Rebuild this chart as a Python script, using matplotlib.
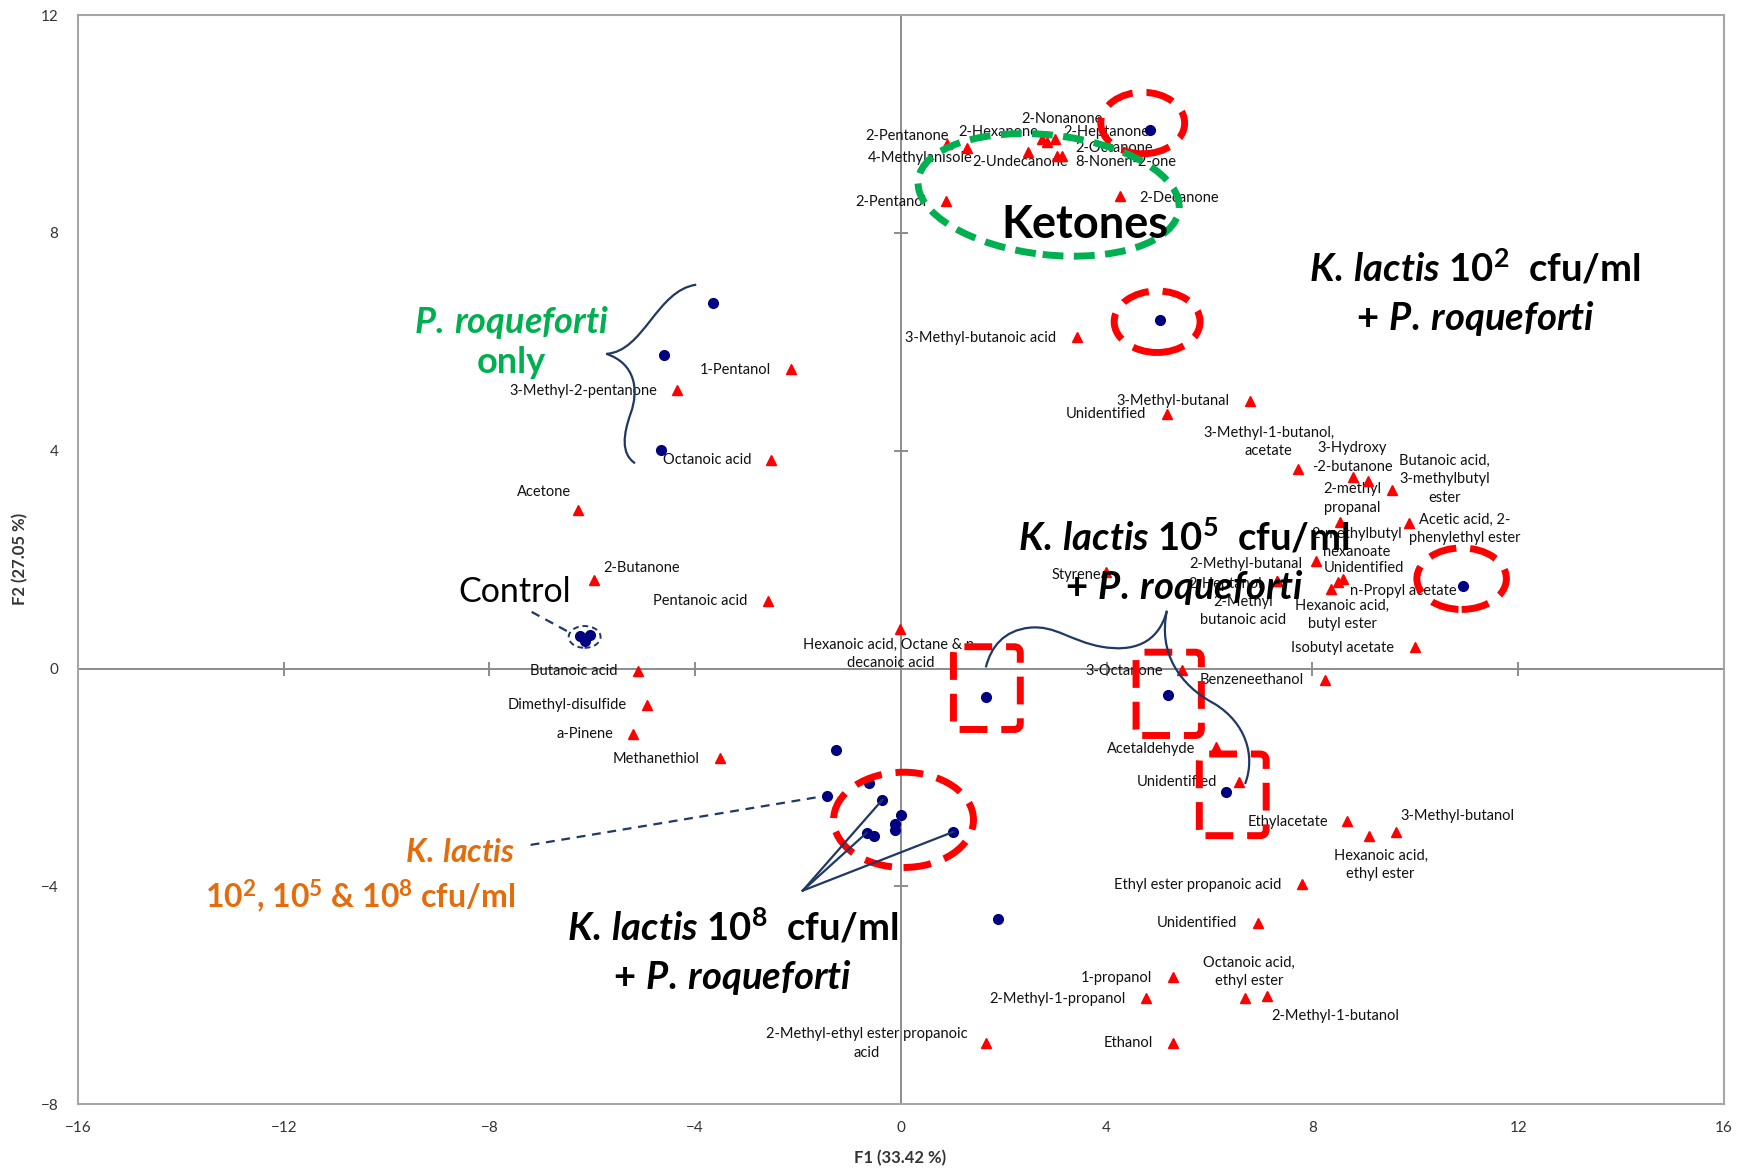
import matplotlib
matplotlib.use("Agg")
import matplotlib.pyplot as plt
from matplotlib.patches import Ellipse, FancyBboxPatch, PathPatch
from matplotlib.path import Path

plt.rcParams["font.family"] = ["Lato", "DejaVu Sans"]
plt.rcParams["mathtext.fontset"] = "custom"
plt.rcParams["mathtext.rm"] = "Lato:bold"
plt.rcParams["mathtext.it"] = "Lato:bold:italic"
plt.rcParams["mathtext.bf"] = "Lato:bold"

# ── PCA scores: volatile compounds (F1, F2) ───────────────────────────────────
COMPOUNDS = [
    "2-Pentanone", "4-Methylanisole", "2-Undecanone", "2-Hexanone", "2-Nonanone",
    "2-Heptanone", "2-Octanone", "8-Nonen-2-one", "2-Pentanol", "2-Decanone",
    "3-Methyl-butanoic acid", "1-Pentanol", "3-Methyl-2-pentanone", "Octanoic acid",
    "Acetone", "2-Butanone", "Pentanoic acid", "Butanoic acid", "Dimethyl-disulfide",
    "a-Pinene", "Methanethiol", "Hexanoic acid, Octane & n-\ndecanoic acid",
    "3-Methyl-butanal", "Unidentified", "3-Methyl-1-butanol,\nacetate",
    "3-Hydroxy\n-2-butanone", "2-methyl\npropanal", "Butanoic acid,\n3-methylbutyl\nester",
    "2-methylbutyl\nhexanoate", "Acetic acid, 2-\nphenylethyl ester", "2-Methyl-butanal",
    "Unidentified", "n-Propyl acetate", "Hexanoic acid,\nbutyl ester", "2-Heptanol",
    "2-Methyl\nbutanoic acid", "Styrene", "Isobutyl acetate", "3-Octanone",
    "Benzeneethanol", "Acetaldehyde", "Unidentified", "Ethylacetate",
    "Hexanoic acid,\nethyl ester", "3-Methyl-butanol", "Ethyl ester propanoic acid",
    "Unidentified", "1-propanol", "2-Methyl-1-propanol", "Octanoic acid,\nethyl ester",
    "2-Methyl-1-butanol", "Ethanol", "2-Methyl-ethyl ester propanoic\nacid",
]
COMP_F1 = [
    0.89, 1.28, 2.47, 2.75, 2.84, 2.99, 3.03, 3.14, 0.88, 4.25,
    3.42, -2.14, -4.35, -2.53, -6.27, -5.97, -2.58, -5.11, -4.93,
    -5.20, -3.52, -0.02, 6.79, 5.18, 7.71, 8.79, 9.07, 9.54,
    8.54, 9.88, 8.06, 8.59, 8.50, 8.37, 7.31, 7.31, 3.99, 9.99, 5.46,
    8.25, 6.12, 6.58, 8.68, 9.09, 9.62, 7.79, 6.94, 5.28, 4.76, 6.69,
    7.12, 5.28, 1.66,
]
COMP_F2 = [
    9.64, 9.56, 9.48, 9.72, 9.68, 9.72, 9.42, 9.42, 8.59, 8.68,
    6.09, 5.50, 5.12, 3.83, 2.92, 1.62, 1.24, -0.04, -0.67,
    -1.21, -1.64, 0.73, 4.92, 4.68, 3.67, 3.51, 3.45, 3.27,
    2.69, 2.67, 1.98, 1.65, 1.58, 1.46, 1.61, 1.61, 1.77, 0.39, -0.02,
    -0.22, -1.44, -2.09, -2.81, -3.08, -3.00, -3.96, -4.67, -5.67, -6.06, -6.05,
    -6.02, -6.88, -6.87,
]

# ── PCA scores: cheese samples (F1, F2) ───────────────────────────────────────
SAMPLE_F1 = [4.84, 5.03, 10.92, -3.66, -4.60, -4.67, -6.24, -6.05, -6.14,
             1.65, 5.19, 6.32, -1.26, -1.44, -0.62, -0.36, 0.00, -0.12,
             -0.12, -0.67, -0.52, 1.02, 1.89]
SAMPLE_F2 = [9.90, 6.40, 1.51, 6.72, 5.76, 4.01, 0.59, 0.61, 0.51,
             -0.53, -0.48, -2.27, -1.49, -2.35, -2.11, -2.41, -2.70, -2.86,
             -2.97, -3.02, -3.08, -3.00, -4.61]

X_TICKS = [-16, -12, -8, -4, 0, 4, 8, 12, 16]
Y_TICKS = [-8, -4, 0, 4, 8, 12]

# label placement (pixel offsets from each compound marker, label centred)
LABEL_OFFSETS = [
    (-40, 8), (-47, -10), (-8, -10), (-44, 7), (15, 23), (52, 7), (57, 8), (63, -6),
    (-55, -1), (60, -2), (-96, -1), (-56, -1), (-94, -1), (-64, 0), (-34, 18),
    (48, 12), (-68, 0), (-64, 0), (-80, 0), (-49, 0), (-64, -1), (-9, -25),
    (-77, 0), (-61, 0), (-29, 27), (-1, 20), (-15, -18), (53, 11), (16, -21),
    (56, -6), (-70, -3), (21, 11), (65, -9), (11, -26), (-52, -3), (-34, -30),
    (-30, -3), (-72, -1), (-58, -1), (-74, 0), (-65, -2), (-62, 0), (-60, -1),
    (12, -29), (62, 16), (-104, -1), (-61, 0), (-56, -1), (-88, -1), (4, 26),
    (68, -20), (-44, 0), (-120, -1),
]

RED = "#FF0000"
NAVY = "#000080"
LINE = "#1F3864"
GREEN = "#00B050"
ORANGE = "#E46C0A"
GREY = "#A6A6A6"

fig = plt.figure(figsize=(17.52, 11.72), dpi=100)
ax = fig.add_axes([0.0445, 0.058, 0.9395, 0.929])
ax.set_xlim(-16, 16)
ax.set_ylim(-8, 12)
ax.set_xticks(X_TICKS)
ax.set_yticks(Y_TICKS)
ax.tick_params(length=0, labelsize=11, colors="#333333")
ax.tick_params(axis="y", pad=14)
ax.tick_params(axis="x", pad=12)
for sp in ax.spines.values():
    sp.set_color(GREY)
    sp.set_linewidth(1.5)

# central axes with their own small tick marks
ax.axhline(0, color="#8C8C8C", lw=1.4, zorder=1)
ax.axvline(0, color="#8C8C8C", lw=1.4, zorder=1)
inner_x = [t for t in X_TICKS if abs(t) not in (0, 16)]
inner_y = [t for t in Y_TICKS if t not in (0, -8, 12)]
ax.plot(inner_x, [0] * len(inner_x), ls="none", marker="|", ms=10, mew=1.4,
        color="#8C8C8C", zorder=1)
ax.plot([0] * len(inner_y), inner_y, ls="none", marker="_", ms=10, mew=1.4,
        color="#8C8C8C", zorder=1)

# compounds + labels
ax.plot(COMP_F1, COMP_F2, ls="none", marker="^", ms=7, color=RED, zorder=4)
for name, x, y, off in zip(COMPOUNDS, COMP_F1, COMP_F2, LABEL_OFFSETS):
    ax.annotate(name, (x, y), xytext=off, textcoords="offset pixels",
                ha="center", va="center", multialignment="center",
                fontsize=10.5, color="#111111", zorder=3, linespacing=1.4)

# samples
ax.plot(SAMPLE_F1, SAMPLE_F2, ls="none", marker="o", ms=7, color=NAVY, zorder=4)

# red dashed groupings (circles and boxes)
red_kw = dict(fill=False, ec=RED, lw=5, ls=(0, (4, 2)), zorder=5)
for cx, cy, w, h in [(4.70, 10.02, 1.63, 1.13), (4.98, 6.37, 1.67, 1.13),
                     (10.90, 1.65, 1.74, 1.13), (0.05, -2.78, 2.72, 1.75)]:
    ax.add_patch(Ellipse((cx, cy), w, h, **red_kw))
for x0, x1, y0, y1 in [(1.02, 2.32, -1.12, 0.40), (4.57, 5.84, -1.23, 0.30),
                       (5.80, 7.10, -3.07, -1.57)]:
    ax.add_patch(FancyBboxPatch((x0, y0), x1 - x0, y1 - y0,
                                boxstyle="round,pad=0,rounding_size=0.12", **red_kw))

# ketone cluster
ax.add_patch(Ellipse((2.87, 8.70), 5.1, 2.2, angle=-6, fill=False, ec=GREEN,
                     lw=5, ls=(0, (3, 1.5)), zorder=5))

# braces and leader lines
def curve(points):
    codes = [Path.MOVETO] + [Path.CURVE4] * (len(points) - 1)
    return PathPatch(Path(points, codes), fill=False, ec=LINE, lw=1.6, zorder=6)

ax.add_patch(curve([(-5.73, 5.78), (-5.0, 5.82), (-4.75, 6.95), (-3.98, 7.05)]))
ax.add_patch(curve([(-5.73, 5.78), (-5.15, 5.6), (-5.1, 5.1), (-5.25, 4.7),
                    (-5.4, 4.3), (-5.45, 3.95), (-5.17, 3.77)]))
ax.add_patch(curve([(5.17, 1.06), (5.0, 0.45), (4.5, 0.3), (3.9, 0.4),
                    (3.3, 0.5), (3.0, 0.8), (2.5, 0.75),
                    (2.0, 0.7), (1.75, 0.4), (1.65, 0.02)]))
ax.add_patch(curve([(5.17, 1.06), (5.0, 0.3), (5.4, -0.3), (6.1, -0.65),
                    (6.7, -1.0), (6.9, -1.6), (6.69, -2.12)]))

hub = (-1.91, -4.08)
for i in (15, 19, 21):
    ax.plot([hub[0], SAMPLE_F1[i]], [hub[1], SAMPLE_F2[i]], color=LINE, lw=1.6, zorder=6)

ax.plot([-7.20, -1.60], [-3.24, -2.36], color=LINE, lw=1.6, ls=(0, (4, 3)), zorder=6)
ax.plot([-7.18, -6.42], [1.04, 0.65], color=LINE, lw=1.6, ls=(0, (4, 3)), zorder=6)
ax.add_patch(Ellipse((-6.15, 0.58), 0.62, 0.40, fill=False, ec=LINE, lw=1.4,
                     ls=(0, (3, 2)), zorder=6))

# group captions
big = dict(ha="center", va="center", fontsize=27.5, fontweight="bold",
           color="black", zorder=7, linespacing=1.37)
ax.text(11.16, 6.89, "$\\mathit{K.\\,lactis}$ $\\mathrm{10}^{2}$  cfu/ml\n"
        "$\\mathit{+\\ P.\\,roqueforti}$", **big)
ax.text(5.51, 1.95, "$\\mathit{K.\\,lactis}$ $\\mathrm{10}^{5}$  cfu/ml\n"
        "$\\mathit{+\\ P.\\,roqueforti}$", **big)
ax.text(-3.27, -5.21, "$\\mathit{K.\\,lactis}$ $\\mathrm{10}^{8}$  cfu/ml\n"
        "$\\mathit{+\\ P.\\,roqueforti}$", **big)
ax.text(3.58, 8.14, "Ketones", ha="center", va="center", fontsize=32.5,
        fontweight="bold", color="black", zorder=7)
ax.text(-7.57, 6.01, "$\\mathit{P.\\,roqueforti}$\nonly", ha="center", va="center",
        fontsize=26, fontweight="bold", color=GREEN, zorder=7, linespacing=1.2)
ax.text(-7.5, -3.82, "$\\mathit{K.\\,lactis}$\n"
        "$\\mathrm{10}^{2}$, $\\mathrm{10}^{5}$ & $\\mathrm{10}^{8}$ cfu/ml",
        ha="right", va="center", multialignment="right", fontsize=23,
        fontweight="bold", color=ORANGE, zorder=7, linespacing=1.33)
ax.text(-7.5, 1.41, "Control", ha="center", va="center", fontsize=24.5,
        color="black", zorder=7)

fig.text(0.514, 0.012, "F1 (33.42 %)", ha="center", va="center",
         fontsize=12, fontweight="bold", color="#333333")
fig.text(0.0114, 0.523, "F2 (27.05 %)", ha="center", va="center", rotation=90,
         fontsize=12, fontweight="bold", color="#333333")

fig.savefig("out.png", dpi=100)
